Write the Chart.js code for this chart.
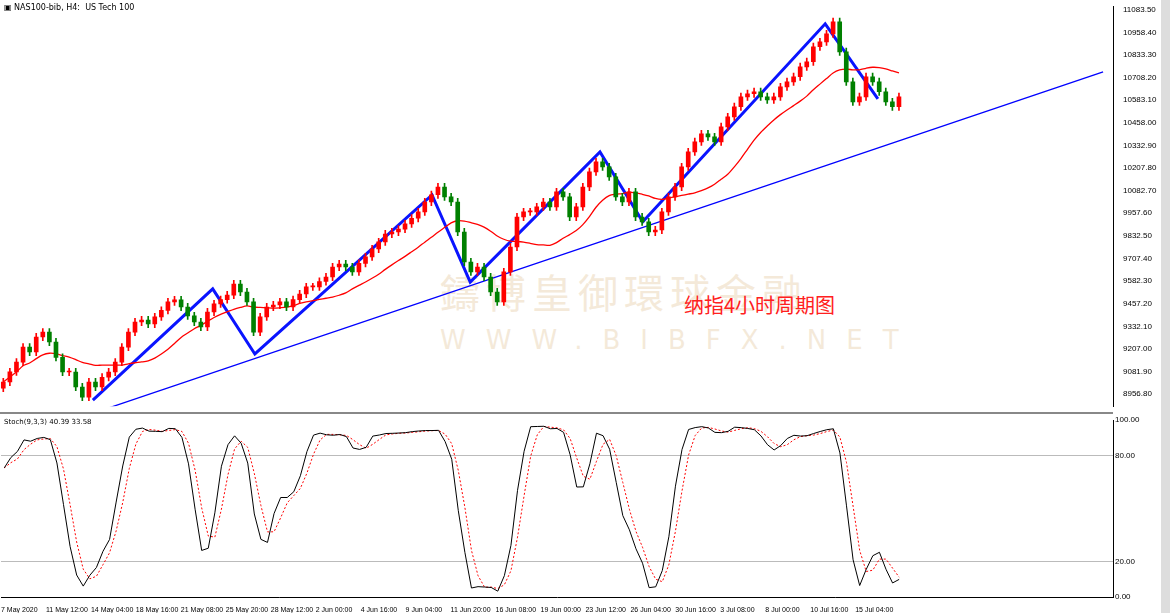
<!DOCTYPE html>
<html><head><meta charset="utf-8">
<script src="https://cdn.jsdelivr.net/npm/chart.js@4"></script>
<style>
body{margin:0;width:1170px;height:613px;background:#fff;position:relative;overflow:hidden;font-family:"DejaVu Sans",sans-serif}
#c1{position:absolute;left:0;top:0}
#c2{position:absolute;left:0;top:413px}
.wm{position:absolute;color:rgba(235,215,185,0.55);white-space:nowrap}
.scroll{position:absolute;left:1161px;top:0;width:9px;height:613px;background:#ddd}
.sep{position:absolute;left:0;top:412px;width:1113px;height:2px;background:#888}
</style></head><body>
<div class="wm" style="left:440px;top:262px;font-size:40px;letter-spacing:6px;font-family:'Noto Sans CJK TC'">鑄博皇御環球金融</div>
<div class="wm" style="left:440px;top:325px;font-size:26px;letter-spacing:20px">WWW.BIBFX.NET</div>
<div style="position:absolute;left:684px;top:290px;font-size:20px;color:#ff2020;font-family:'Noto Sans CJK SC'">纳指4小时周期图</div>
<canvas id="c1" width="1170" height="413"></canvas>
<canvas id="c2" width="1170" height="200"></canvas>
<div class="sep"></div>
<div class="scroll"></div>
<div style="position:absolute;left:4px;top:3px;font-size:8px;color:#000">▣ NAS100-bib, H4:&nbsp; US Tech 100</div>
<script>
const closes=[9024,9080,9134,9217,9190,9273,9300,9245,9160,9079,9079,8996,
8940,9024,8996,9050,9079,9134,9217,9300,9356,9367,9345,9384,9420,9467,9478,9439,9390,9356,9328,9411,9456,9480,9505,9566,
9522,9467,9300,9384,9439,9450,9467,9439,9480,9511,9550,9550,9580,9605,9660,9677,9660,9633,9680,9716,9760,9799,9843,9854,9870,9899,9930,9965,10020,10060,10103,
10048,10020,9854,9688,9633,9660,9605,9522,9467,9633,9771,9937,9965,9965,9993,10020,9993,10076,10048,9937,9993,10103,10187,10242,
10214,10159,10048,10020,10076,9937,9910,9854,
9865,9965,10048,10103,10214,10297,10353,10397,10380,10353,10436,10491,10547,10602,10619,10630,10602,10585,10602,10657,10685,10713,10768,10796,10879,10906,10950,11017,
10851,10685,10574,10602,10713,10685,10630,10574,10547,10602];
const firstOpen=8990;
const priceTicks=[11083.5,10958.4,10833.3,10708.2,10583.1,10458.0,10332.9,10207.8,10082.7,9957.6,9832.5,9707.4,9582.3,9457.2,9332.1,9207.0,9081.9,8956.8];
const stochTicks=[100,80,20,0];
const dateLabels=["7 May 2020","11 May 12:00","14 May 04:00","18 May 16:00","21 May 08:00","25 May 20:00","28 May 12:00","2 Jun 00:00","4 Jun 16:00","9 Jun 04:00","11 Jun 20:00","16 Jun 08:00","19 Jun 00:00","23 Jun 12:00","26 Jun 04:00","30 Jun 16:00","3 Jul 08:00","8 Jul 00:00","10 Jul 16:00","15 Jul 04:00"];
const zigIdx=[13.6,31.8,38.2,65.1,70.9,90.6,97.1,124.8,132.8];
const zigPrice=[8924,9539,9179,10059,9577,10297,9910,11006,10591];
const trendIdx=[13.2,167];
const trendPrice=[8846,10740];
const SLOTS=169, WICK=20, MA=15;

const opens=closes.map((c,i)=>i?closes[i-1]:firstOpen);
const highs=closes.map((c,i)=>Math.max(c,opens[i])+WICK);
const lows=closes.map((c,i)=>Math.min(c,opens[i])-WICK);
const col=closes.map((c,i)=>c>=opens[i]?'#ff0000':'#008000');
const ma=closes.map((c,i)=>{const s=closes.slice(Math.max(0,i-MA+1),i+1);return s.reduce((a,b)=>a+b,0)/s.length;});
const rawK=closes.map((c,i)=>{const a=Math.max(0,i-8);const h=Math.max(...highs.slice(a,i+1)),l=Math.min(...lows.slice(a,i+1));return (c-l)/(h-l)*100;});
const sm=(arr)=>arr.map((v,i)=>{const s=arr.slice(Math.max(0,i-2),i+1);return s.reduce((a,b)=>a+b,0)/s.length;});
const K=sm(rawK), D=sm(K);
const font={family:'Liberation Sans',size:8};
const rightAxis=(ticks,min,max,fmt)=>({type:'linear',position:'right',min,max,grid:{display:false},border:{color:'#000'},
  afterBuildTicks:s=>{s.ticks=ticks.map(v=>({value:v}))},afterFit:s=>{s.width=57},
  ticks:{font,color:'#000',padding:2,callback:fmt,autoSkip:false}});

new Chart(document.getElementById('c1'),{
 type:'bar',
 data:{datasets:[
  {type:'bar',data:closes.map((c,i)=>({x:i,y:[lows[i],highs[i]]})),backgroundColor:col,barThickness:1,grouped:false},
  {type:'bar',data:closes.map((c,i)=>({x:i,y:[opens[i],c]})),backgroundColor:col,barThickness:4,grouped:false,minBarLength:1},
  {type:'line',data:ma.map((v,i)=>({x:i,y:v})),borderColor:'#ff0000',borderWidth:1.3,pointRadius:0,tension:0.3},
  {type:'line',data:trendIdx.map((x,i)=>({x,y:trendPrice[i]})),borderColor:'#0000ff',borderWidth:1.3,pointRadius:0},
  {type:'line',data:zigIdx.map((x,i)=>({x,y:zigPrice[i]})),borderColor:'#0a14ff',borderWidth:3,pointRadius:0}
 ]},
 options:{animation:false,responsive:false,layout:{padding:0},plugins:{legend:{display:false},tooltip:{enabled:false}},
  scales:{x:{type:'linear',min:-0.5,max:SLOTS-0.5,offset:false,display:false},y:rightAxis(priceTicks,8890,11100,v=>v.toFixed(2))}}
});
new Chart(document.getElementById('c2'),{
 type:'line',
 data:{datasets:[
  {data:K.map((v,i)=>({x:i,y:v})),borderColor:'#000',borderWidth:1,pointRadius:0},
  {data:D.map((v,i)=>({x:i,y:v})),borderColor:'#ff0000',borderWidth:1,borderDash:[2,2],pointRadius:0}
 ]},
 options:{animation:false,responsive:false,layout:{padding:{top:7}},plugins:{legend:{display:false},tooltip:{enabled:false}},
  scales:{x:{type:'linear',min:-0.5,max:SLOTS-0.5,offset:false,grid:{display:false,drawTicks:true},border:{color:'#000'},
    afterBuildTicks:s=>{s.ticks=dateLabels.map((l,k)=>({value:k*45/6.586-0.5}))},afterFit:s=>{s.height=16},
    ticks:{font:{family:'Liberation Sans',size:7},color:'#000',align:'start',maxRotation:0,autoSkip:false,padding:1,callback:(v,i)=>dateLabels[i]}},
   y:Object.assign(rightAxis(stochTicks,0,100,v=>v.toFixed(2)),{grid:{display:true,drawTicks:false,color:c=>(c.tick.value===80||c.tick.value===20)?'#bbb':'rgba(0,0,0,0)'}})}}
});
</script>
<div style="position:absolute;left:4px;top:418px;font-size:7px;color:#000">Stoch(9,3,3) 40.39 33.58</div>
</body></html>
